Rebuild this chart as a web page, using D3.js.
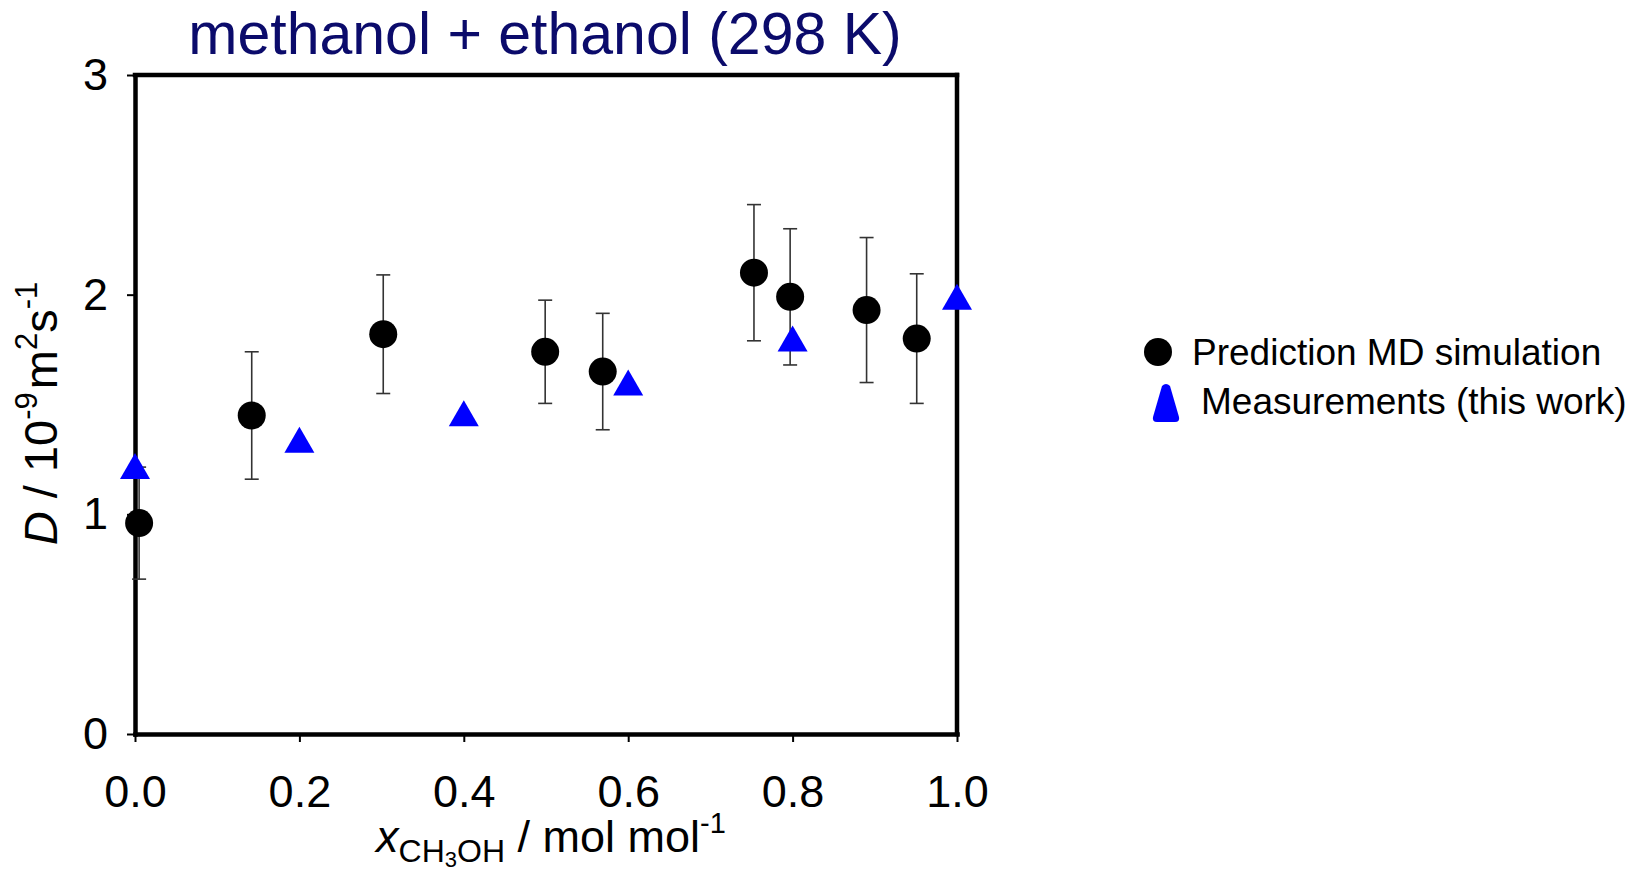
<!DOCTYPE html>
<html>
<head>
<meta charset="utf-8">
<script src="https://cdn.jsdelivr.net/npm/d3@7"></script>
<style>
  body { margin: 0; background: #fff; }
  svg { display: block; font-family: "Liberation Sans", Arial, sans-serif; }
</style>
</head>
<body>
<div id="chart"></div>
<script>
// MD simulation predictions (x, D, error)
const simX   = [0.005, 0.142, 0.302, 0.499, 0.569, 0.753, 0.797, 0.890, 0.951]
const simD   = [0.96, 1.45, 1.82, 1.74, 1.65, 2.10, 1.99, 1.93, 1.80]
const simErr = [0.255, 0.29, 0.27, 0.235, 0.265, 0.31, 0.31, 0.33, 0.295]

// measurements (this work)
const measX = [0.0, 0.2, 0.4, 0.6, 0.8, 1.0]
const measD = [1.22, 1.34, 1.46, 1.60, 1.80, 1.99]

const xTicks = [0, 0.2, 0.4, 0.6, 0.8, 1.0]
const yTicks = [0, 1, 2, 3]

const titleText = "methanol + ethanol (298 K)"
const legendLabels = ["Prediction MD simulation", "Measurements (this work)"]

const width = 1635
const height = 876
const margins = { top: 75, right: 678, bottom: 142, left: 135 }

const svg = d3.select('#chart').append('svg')
    .attr('width', width)
    .attr('height', height)

const xScale = d3.scaleLinear()
    .domain([0, 1])
    .range([margins.left, width - margins.right])

const yScale = d3.scaleLinear()
    .domain([0, 3])
    .range([height - margins.bottom, margins.top])

const x0 = xScale(0), x1 = xScale(1)
const y0 = yScale(0), y1 = yScale(3)
const frameW = 4.5

// frame top and right
svg.append('line')
    .attr('x1', x0).attr('x2', x1).attr('y1', y1).attr('y2', y1)
    .attr('stroke', '#000').attr('stroke-width', frameW).attr('stroke-linecap', 'square')
svg.append('line')
    .attr('x1', x1).attr('x2', x1).attr('y1', y1).attr('y2', y0)
    .attr('stroke', '#000').attr('stroke-width', frameW).attr('stroke-linecap', 'square')

// axes
const xAxis = svg.append('g')
    .attr('transform', 'translate(0,' + y0 + ')')
    .call(d3.axisBottom(xScale).tickValues(xTicks).tickFormat(d3.format('.1f'))
        .tickSizeInner(8).tickSizeOuter(0).tickPadding(33))
xAxis.select('.domain').attr('stroke-width', frameW).attr('stroke-linecap', 'square')
xAxis.selectAll('.tick line').attr('stroke-width', 2)
xAxis.selectAll('.tick text')
    .attr('font-size', 45).attr('fill', '#000')
    .attr('font-family', '"Liberation Sans", Arial, sans-serif')

const yAxis = svg.append('g')
    .attr('transform', 'translate(' + x0 + ',0)')
    .call(d3.axisLeft(yScale).tickValues(yTicks).tickFormat(d3.format('d'))
        .tickSizeInner(8).tickSizeOuter(0).tickPadding(19))
yAxis.select('.domain').attr('stroke-width', frameW).attr('stroke-linecap', 'square')
yAxis.selectAll('.tick line').attr('stroke-width', 2)
yAxis.selectAll('.tick text')
    .attr('font-size', 45).attr('fill', '#000')
    .attr('font-family', '"Liberation Sans", Arial, sans-serif')

// error bars
const simData = simX.map((x, i) => ({ x: x, y: simD[i], e: simErr[i] }))
const capW = 7
const eb = svg.append('g').attr('stroke', '#333').attr('stroke-width', 1.6)
eb.selectAll('line.v').data(simData).join('line').attr('class', 'v')
    .attr('x1', d => xScale(d.x)).attr('x2', d => xScale(d.x))
    .attr('y1', d => yScale(d.y - d.e)).attr('y2', d => yScale(d.y + d.e))
eb.selectAll('line.top').data(simData).join('line').attr('class', 'top')
    .attr('x1', d => xScale(d.x) - capW).attr('x2', d => xScale(d.x) + capW)
    .attr('y1', d => yScale(d.y + d.e)).attr('y2', d => yScale(d.y + d.e))
eb.selectAll('line.bot').data(simData).join('line').attr('class', 'bot')
    .attr('x1', d => xScale(d.x) - capW).attr('x2', d => xScale(d.x) + capW)
    .attr('y1', d => yScale(d.y - d.e)).attr('y2', d => yScale(d.y - d.e))

// simulation circles
svg.append('g').selectAll('circle').data(simData).join('circle')
    .attr('cx', d => xScale(d.x))
    .attr('cy', d => yScale(d.y))
    .attr('r', 14)
    .attr('fill', '#000')

// measurement triangles
const triW = 30, triH = 26
const triPath = `M0,${-triH / 2}L${triW / 2},${triH / 2}L${-triW / 2},${triH / 2}Z`
const measData = measX.map((x, i) => ({ x: x, y: measD[i] }))
svg.append('g').selectAll('path').data(measData).join('path')
    .attr('d', triPath)
    .attr('transform', d => 'translate(' + xScale(d.x) + ',' + yScale(d.y) + ')')
    .attr('fill', '#0000ff')

// title
svg.append('text')
    .attr('x', 545).attr('y', 54)
    .attr('text-anchor', 'middle')
    .attr('font-size', 59)
    .attr('fill', '#0b0b6b')
    .text(titleText)

// x axis title
const xt = svg.append('text')
    .attr('x', (x0 + x1) / 2 + 5).attr('y', 852)
    .attr('text-anchor', 'middle')
    .attr('font-size', 45)
xt.append('tspan').attr('font-style', 'italic').text('x')
xt.append('tspan').attr('font-size', 32).attr('dy', 10).text('CH')
xt.append('tspan').attr('font-size', 22).attr('dy', 5).text('3')
xt.append('tspan').attr('font-size', 32).attr('dy', -5).text('OH')
xt.append('tspan').attr('dy', -10).text(' / mol mol')
xt.append('tspan').attr('font-size', 29).attr('dy', -19).text('-1')

// y axis title
const yt = svg.append('text')
    .attr('transform', 'translate(57,' + ((y0 + y1) / 2 + 9) + ') rotate(-90)')
    .attr('text-anchor', 'middle')
    .attr('font-size', 47)
yt.append('tspan').attr('font-style', 'italic').text('D')
yt.append('tspan').text(' / 10')
yt.append('tspan').attr('font-size', 31).attr('dy', -20).text('-9')
yt.append('tspan').attr('dy', 20).attr('dx', 3).text('m')
yt.append('tspan').attr('font-size', 31).attr('dy', -20).text('2')
yt.append('tspan').attr('dy', 20).text('s')
yt.append('tspan').attr('font-size', 31).attr('dy', -20).text('-1')

// legend
const legend = svg.append('g')
legend.append('circle')
    .attr('cx', 1158).attr('cy', 352).attr('r', 14).attr('fill', '#000')
legend.append('text')
    .attr('x', 1192).attr('y', 365)
    .attr('font-size', 37)
    .text(legendLabels[0])
legend.append('path')
    .attr('d', 'M1162,386 Q1166,382 1170,386 L1179,417 Q1180,422 1175,422 L1157,422 Q1152,422 1153,417 Z')
    .attr('fill', '#0000ff')
legend.append('text')
    .attr('x', 1201).attr('y', 414)
    .attr('font-size', 37)
    .text(legendLabels[1])
</script>
</body>
</html>
